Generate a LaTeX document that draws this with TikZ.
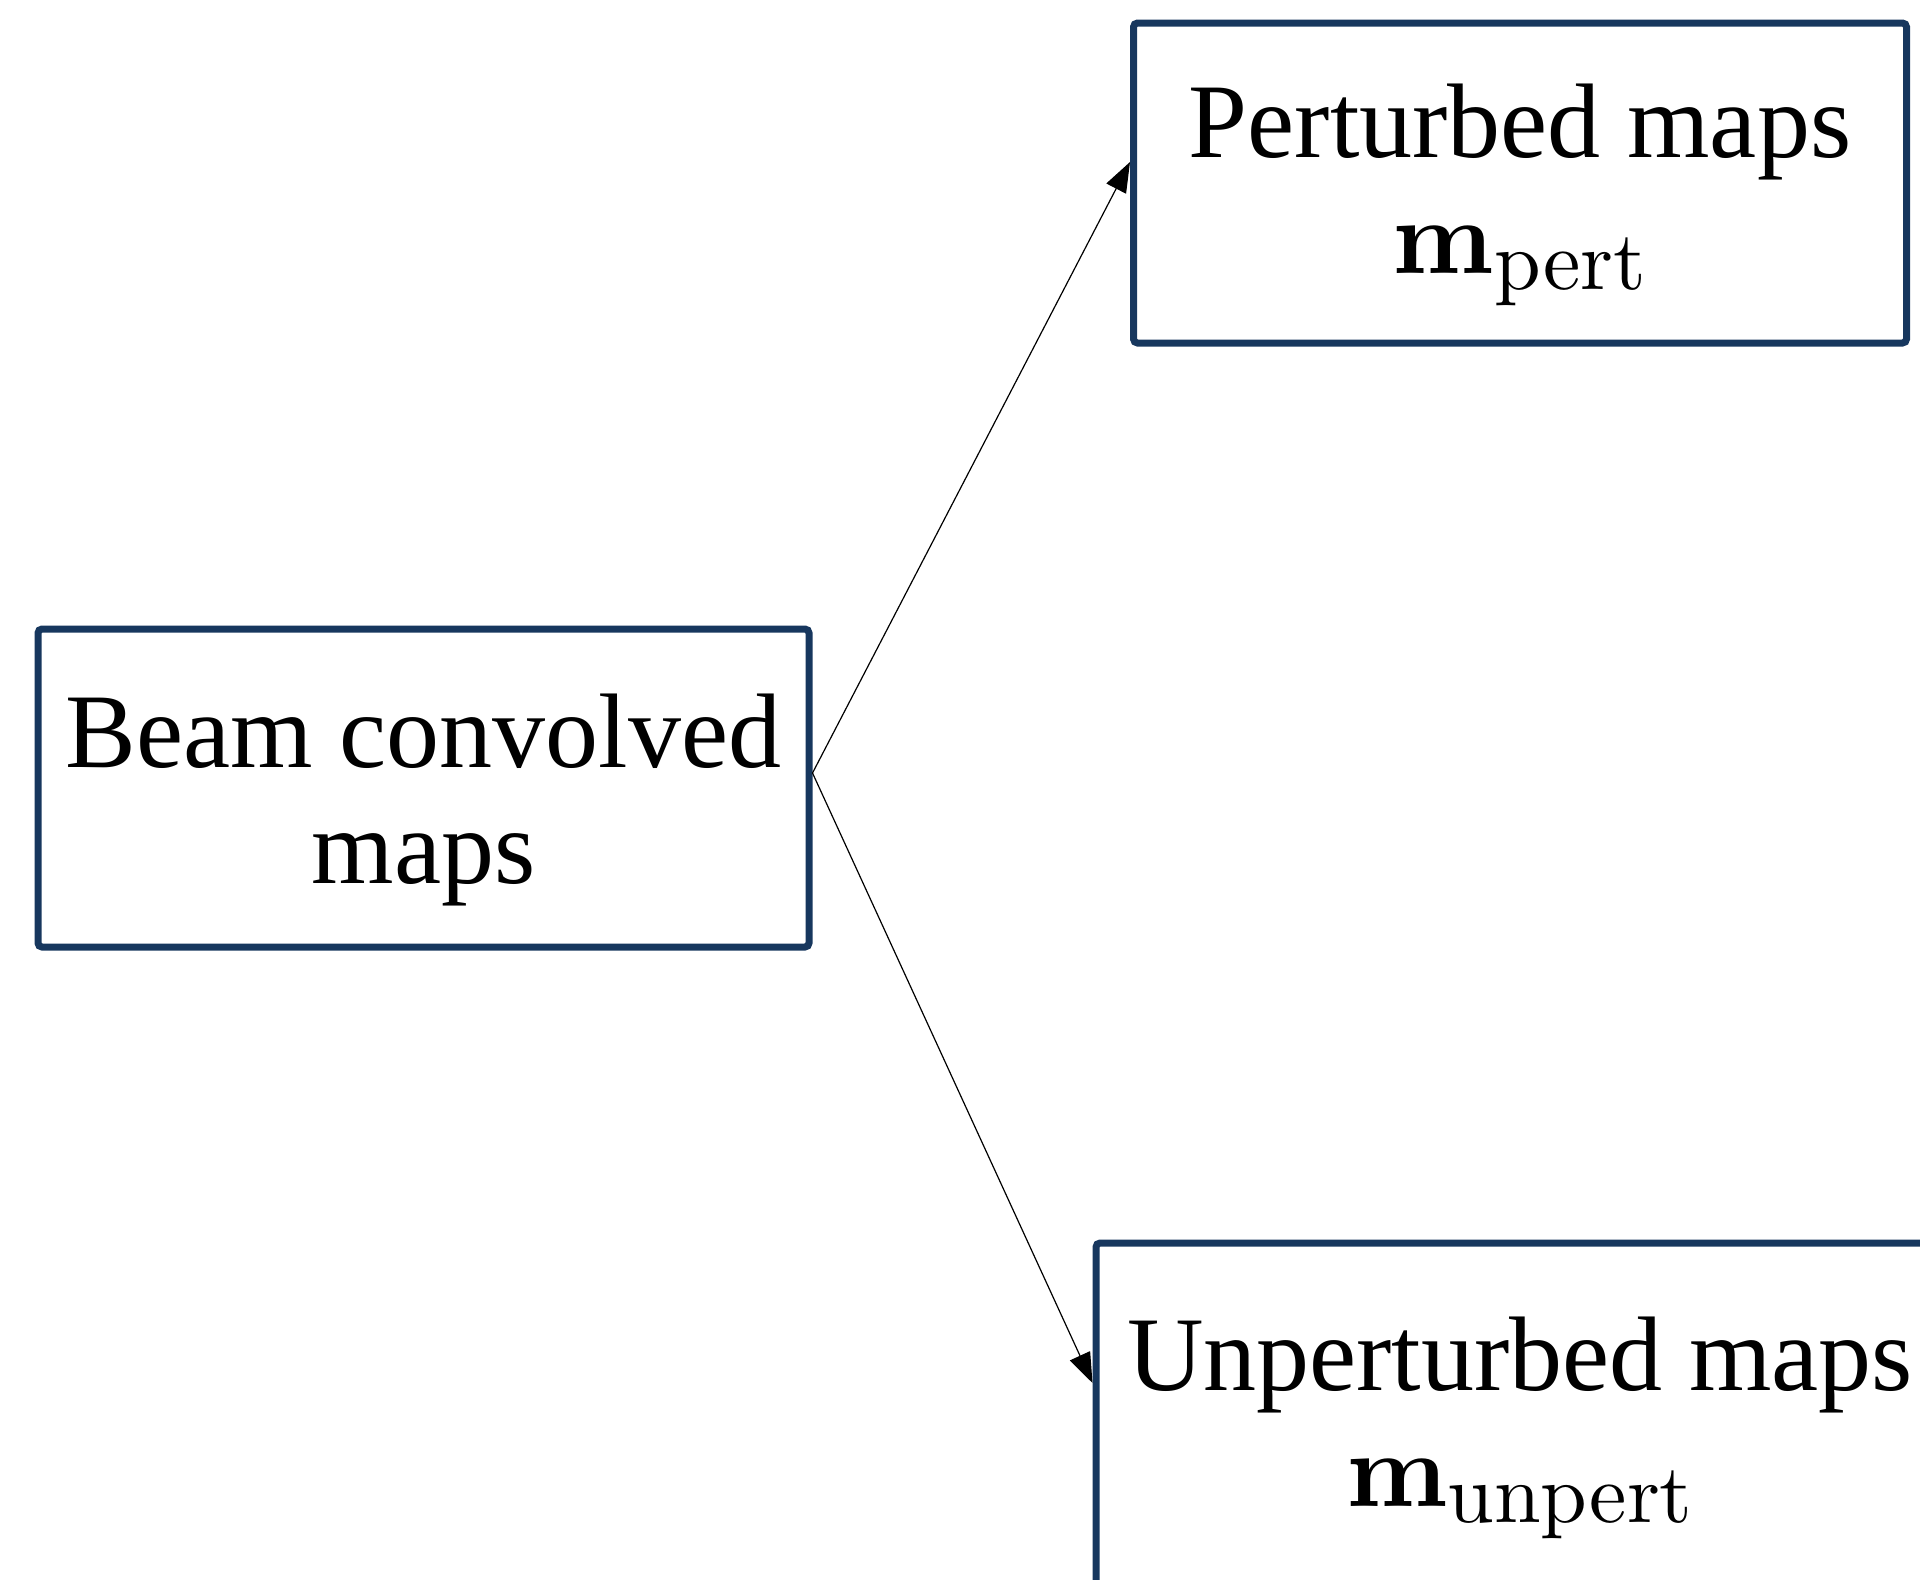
\documentclass[tikz,border=0pt]{standalone}
\usepackage[no-math]{fontspec}
\setmainfont{Liberation Serif}
\DeclareFontShape{OT1}{cmr}{m}{n}{<->cmr10}{}
\DeclareFontShape{OT1}{cmr}{bx}{n}{<->cmbx10}{}
\DeclareFontShape{OML}{cmm}{m}{it}{<->cmmi10}{}
\DeclareFontShape{OMS}{cmsy}{m}{n}{<->cmsy10}{}
\DeclareMathSizes{53}{53}{42}{32}
\usetikzlibrary{arrows.meta}
\definecolor{navy}{HTML}{17375E}
\newcommand\tstrut{\rule{0pt}{49pt}}
\tikzset{
  mapbox/.style={draw=navy, line width=3.5pt, rounded corners=2pt, align=center,
    inner sep=0pt, font=\fontsize{53}{58}\selectfont},
  flow/.style={line width=0.6pt, -{Triangle[length=15pt,width=11pt]}}
}
\begin{document}
\begin{tikzpicture}[x=0.5pt,y=-0.5pt]
\useasboundingbox (0,0) rectangle (1920,1579);
\begin{scope}
\clip (0,0) rectangle (1920,1579);
\node[mapbox, minimum width=385.5pt, minimum height=159pt] (beam) at (423.5,788)
  {\tstrut Beam convolved\\maps};
\node[mapbox, minimum width=386.5pt, minimum height=160pt] (pert) at (1520,183)
  {\tstrut Perturbed maps\\$\mathbf{m}_{\mathrm{pert}}$};
\node[mapbox, minimum width=424pt, minimum height=173pt] (unpert) at (1520,1416)
  {\tstrut Unperturbed maps\\$\mathbf{m}_{\mathrm{unpert}}$};
\coordinate (s) at ([yshift=7.5pt]beam.east);
\draw[flow] (s) -- ([yshift=10.5pt]pert.west);
\draw[flow] (s) -- ([yshift=16.5pt]unpert.west);
\end{scope}
\end{tikzpicture}
\end{document}
